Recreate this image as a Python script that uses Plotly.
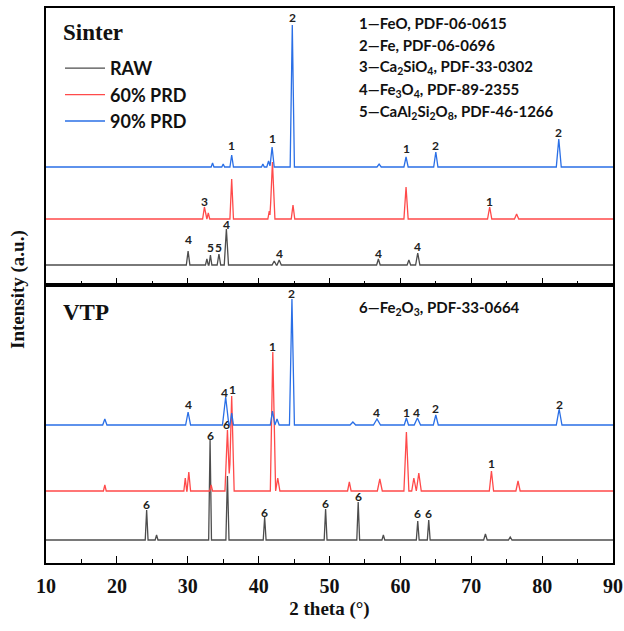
import plotly.graph_objects as go

# ---------------- data (peaks; intensity in a.u.) -------------
# Sinter
sin_raw_pos = [30.05, 32.7, 33.2, 34.4, 35.45, 42.2, 42.9, 56.9, 61.2, 62.45]
sin_raw_int = [14, 6, 10, 11, 36, 4, 5, 6, 5, 12]
sin_raw_hw = [0.25, 0.2, 0.2, 0.25, 0.3, 0.3, 0.3, 0.25, 0.25, 0.3]

sin_60_pos = [32.35, 32.9, 36.2, 41.5, 41.95, 44.85, 60.8, 72.6, 76.4]
sin_60_int = [12, 6, 40, 8, 57, 14, 32, 12, 5]
sin_60_hw = [0.25, 0.2, 0.25, 0.2, 0.35, 0.25, 0.3, 0.3, 0.3]

sin_90_pos = [33.5, 35.0, 36.2, 40.6, 41.4, 41.9, 44.75, 57.0, 60.8, 65.0, 82.35]
sin_90_int = [4, 3, 12, 3, 6, 20, 142, 3, 10, 15, 28]
sin_90_hw = [0.2, 0.2, 0.25, 0.2, 0.25, 0.3, 0.3, 0.3, 0.3, 0.3, 0.35]

# VTP
vtp_raw_pos = [24.2, 25.6, 33.15, 35.6, 40.85, 49.45, 54.05, 57.6, 62.45, 64.0, 72.0, 75.5]
vtp_raw_int = [30, 5, 100, 64, 23, 31, 38, 5, 19, 20, 6, 3]
vtp_raw_hw = [0.2, 0.2, 0.2, 0.22, 0.2, 0.2, 0.2, 0.2, 0.2, 0.2, 0.25, 0.25]

vtp_60_pos = [18.3, 29.65, 30.15, 33.3, 35.6, 36.2, 42.0, 42.7, 52.8, 57.1, 60.85, 61.9, 62.6, 72.85, 76.6]
vtp_60_int = [6, 13, 19, 6, 61, 95, 139, 13, 9, 12, 59, 13, 18, 20, 10]
vtp_60_hw = [0.2, 0.2, 0.25, 0.2, 0.35, 0.35, 0.35, 0.3, 0.25, 0.35, 0.35, 0.3, 0.35, 0.3, 0.3]

vtp_90_pos = [18.3, 30.05, 35.35, 36.2, 41.95, 42.6, 44.7, 53.3, 56.7, 60.85, 62.4, 65.0, 82.4]
vtp_90_int = [6, 13, 28, 12, 14, 6, 126, 3, 6, 7, 7, 10, 16]
vtp_90_hw = [0.3, 0.35, 0.45, 0.25, 0.3, 0.3, 0.35, 0.4, 0.5, 0.3, 0.45, 0.35, 0.4]

series_names = ["RAW", "60% PRD", "90% PRD"]

# peak labels (x, text, y in panel units)
sin_lab_x = [44.75, 36.2, 41.9, 60.8, 65.0, 82.35, 32.35, 72.6, 30.05, 33.15, 34.3, 35.45, 42.9, 56.9, 62.45]
sin_lab_t = ["2", "1", "1", "1", "2", "2", "3", "1", "4", "5", "5", "4", "4", "4", "4"]
sin_lab_y = [268, 140, 147, 137, 140, 153, 84, 84, 46, 38, 38, 61, 32, 32, 39]

vtp_lab_x = [44.7, 42.0, 35.25, 36.3, 30.05, 56.6, 60.85, 62.3, 65.0, 82.4, 35.5, 33.15, 72.9,
             24.2, 40.85, 49.5, 54.05, 62.45, 64.0]
vtp_lab_t = ["2", "1", "4", "1", "4", "4", "1", "4", "2", "2", "6", "6", "1",
             "6", "6", "6", "6", "6", "6"]
vtp_lab_y = [270, 217, 171, 174, 159, 151, 151, 151, 155, 159, 139, 128, 100,
             59, 51, 60, 67, 50, 50]

phase_lines_sinter = ["1—FeO, PDF-06-0615", "2—Fe, PDF-06-0696",
                      "3—Ca<sub>2</sub>SiO<sub>4</sub>, PDF-33-0302",
                      "4—Fe<sub>3</sub>O<sub>4</sub>, PDF-89-2355",
                      "5—CaAl<sub>2</sub>Si<sub>2</sub>O<sub>8</sub>, PDF-46-1266"]
phase_lines_vtp = ["6—Fe<sub>2</sub>O<sub>3</sub>, PDF-33-0664"]
panel_titles = ["Sinter", "VTP"]

x_ticks = [10, 20, 30, 40, 50, 60, 70, 80, 90]

# ---------------- styles ------------------------------------------------------------
colors = ["#4d4d4d", "#ff4a4a", "#2a6fe6"]
sin_offsets = [20, 66, 118]
vtp_offsets = [23, 72, 138]
serif = "Liberation Serif"
sans = "Lato"


def profile(pos, inten, hw):
    xs = {10.0, 90.0}
    for p, w in zip(pos, hw):
        xs |= {p - w, p, p + w}
    xs = sorted(xs)
    ys = [sum(max(0.0, h * (1 - abs(x - p) / w)) for p, h, w in zip(pos, inten, hw)) for x in xs]
    return xs, ys


fig = go.Figure()

sinter = [(sin_raw_pos, sin_raw_int, sin_raw_hw), (sin_60_pos, sin_60_int, sin_60_hw),
          (sin_90_pos, sin_90_int, sin_90_hw)]
vtp = [(vtp_raw_pos, vtp_raw_int, vtp_raw_hw), (vtp_60_pos, vtp_60_int, vtp_60_hw),
       (vtp_90_pos, vtp_90_int, vtp_90_hw)]

for i, (pk, off) in enumerate(zip(sinter, sin_offsets)):
    xs, ys = profile(*pk)
    fig.add_trace(go.Scatter(x=xs, y=[v + off for v in ys], mode="lines", name=series_names[i],
                             line=dict(color=colors[i], width=1.3), xaxis="x", yaxis="y",
                             legendgroup=str(i), showlegend=True))
for i, (pk, off) in enumerate(zip(vtp, vtp_offsets)):
    xs, ys = profile(*pk)
    fig.add_trace(go.Scatter(x=xs, y=[v + off for v in ys], mode="lines", name=series_names[i],
                             line=dict(color=colors[i], width=1.3), xaxis="x2", yaxis="y2",
                             legendgroup=str(i), showlegend=False))

lab_font = dict(family=sans, size=12, color="#222", weight="bold")
ann = []
for x, t, y in zip(sin_lab_x, sin_lab_t, sin_lab_y):
    ann.append(dict(x=x, y=y, xref="x", yref="y", text=t, showarrow=False,
                    font=lab_font, xanchor="center", yanchor="middle"))
for x, t, y in zip(vtp_lab_x, vtp_lab_t, vtp_lab_y):
    ann.append(dict(x=x, y=y, xref="x2", yref="y2", text=t, showarrow=False,
                    font=lab_font, xanchor="center", yanchor="middle"))

# phase list
W, H = 567.0, 555.0
def px_to_paper_x(px):
    return (px - 46) / W
def px_to_paper_y(py):
    return (563 - py) / H

phase_font = dict(family=sans, size=15, color="#111", weight="bold")
phase_y_px = [23, 45.5, 67, 89.5, 112]
for t, py in zip(phase_lines_sinter, phase_y_px):
    ann.append(dict(x=px_to_paper_x(357), y=px_to_paper_y(py), xref="paper", yref="paper", text=t,
                    showarrow=False, xanchor="left", yanchor="middle", font=phase_font))
ann.append(dict(x=px_to_paper_x(357), y=px_to_paper_y(308), xref="paper", yref="paper",
                text=phase_lines_vtp[0], showarrow=False, xanchor="left", yanchor="middle",
                font=phase_font))
title_font = dict(family=serif, size=23, color="#111", weight="bold")
ann.append(dict(x=px_to_paper_x(61), y=px_to_paper_y(33), xref="paper", yref="paper", text=panel_titles[0],
                showarrow=False, xanchor="left", yanchor="middle", font=title_font))
ann.append(dict(x=px_to_paper_x(61), y=px_to_paper_y(312), xref="paper", yref="paper", text=panel_titles[1],
                showarrow=False, xanchor="left", yanchor="middle", font=title_font))
ann.append(dict(x=px_to_paper_x(18), y=px_to_paper_y(290), xref="paper", yref="paper",
                text="Intensity (a.u.)", textangle=-90, showarrow=False,
                xanchor="center", yanchor="middle",
                font=dict(family=serif, size=19, color="#111", weight="bold")))

axis_common = dict(range=[10, 90], showline=True, linecolor="black", linewidth=1.5, mirror=True,
                   ticks="inside", ticklen=7, tickwidth=1.3, tickcolor="black",
                   tickvals=x_ticks, showgrid=False, zeroline=False, automargin=False,
                   minor=dict(ticks="inside", ticklen=4, tickwidth=1.2, dtick=5, tick0=10,
                              tickcolor="black", showgrid=False))
yaxis_common = dict(showline=True, linecolor="black", linewidth=1.5, mirror=True, showticklabels=False,
                    ticks="", showgrid=False, zeroline=False, automargin=False)

split = (563 - 285) / H
fig.update_layout(
    width=624, height=631,
    margin=dict(l=46, r=11, t=8, b=68, autoexpand=False),
    paper_bgcolor="white", plot_bgcolor="white",
    xaxis=dict(axis_common, domain=[0, 1], anchor="y", showticklabels=False),
    yaxis=dict(yaxis_common, domain=[split, 1], range=[0, 277], anchor="x"),
    xaxis2=dict(axis_common, domain=[0, 1], anchor="y2", showticklabels=True,
                ticktext=[str(v) for v in x_ticks], ticklabelstandoff=4,
                tickfont=dict(family=serif, size=20, color="#111", weight="bold"),
                title=dict(text="2 theta (°)", font=dict(family=serif, size=19, color="#111", weight="bold"),
                           standoff=6)),
    yaxis2=dict(yaxis_common, domain=[0, split], range=[0, 278], anchor="x2"),
    showlegend=True,
    legend=dict(x=px_to_paper_x(60), y=px_to_paper_y(50), xanchor="left", yanchor="top",
                bgcolor="rgba(0,0,0,0)", itemwidth=40, tracegroupgap=0,
                font=dict(family=sans, size=18, color="#111", weight="bold")),
    annotations=ann,
)

fig.write_html("out.html")
